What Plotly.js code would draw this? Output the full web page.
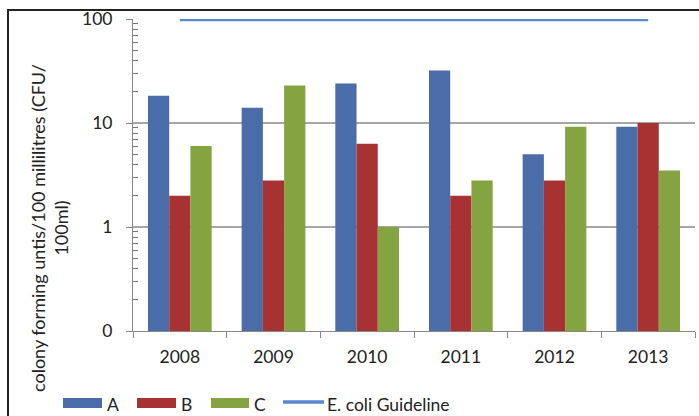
<!DOCTYPE html>
<html>
<head>
<meta charset="utf-8">
<script src="https://cdn.plot.ly/plotly-3.0.1.min.js"></script>
<style>
html,body{margin:0;padding:0;width:699px;height:416px;overflow:hidden;background:#fff;}
#chart{position:absolute;left:0;top:0;width:699px;height:416px;}
#frame{position:absolute;left:7px;top:9px;width:760px;height:460px;border:2px solid #222;pointer-events:none;}
</style>
</head>
<body>
<div id="chart"></div>
<div id="frame"></div>
<script>
const years = ['2008','2009','2010','2011','2012','2013'];
const seriesA = [18.3, 14, 24, 32, 5, 9.2];
const seriesB = [2, 2.8, 6.3, 2, 2.8, 10];
const seriesC = [6, 23, 1, 2.8, 9.2, 3.5];
const guideline = [100, 100, 100, 100, 100, 100];
const yTickVals = [0.1, 1, 10, 100];
const yTickText = ['0', '1', '10', '100'];
const names = ['A', 'B', 'C', 'E. coli Guideline'];
const colors = ['#4A6CA8', '#A83232', '#84A441', '#5B86D0'];

// minor ticks of a log axis: 2..9 within each decade
const minorVals = [];
for (const d of [0.1, 1, 10]) for (let k = 2; k <= 9; k++) minorVals.push(+(k * d).toPrecision(3));

const W = 699, H = 416, L = 133, R = 4, T = 19, B = 85;
const pw = W - L - R, ph = H - T - B;
const px = x => (x - L) / pw;
const py = y => (H - B - y) / ph;
const FONT = 'Lato, "Open Sans", sans-serif';

const traces = [
  {type:'bar', x:years, y:seriesA, name:names[0], marker:{color:colors[0]}},
  {type:'bar', x:years, y:seriesB, name:names[1], marker:{color:colors[1]}},
  {type:'bar', x:years, y:seriesC, name:names[2], marker:{color:colors[2]}},
  {type:'scatter', mode:'lines', x:years, y:guideline, name:names[3], line:{color:colors[3], width:4.5}}
];

// custom legend (wide swatches like the original)
const shapes = [];
const annotations = [];
const legBoxes = [[63,102],[137,176],[211,249]];
const legTextX = [105,179,252];
for (let i = 0; i < 3; i++) {
  shapes.push({type:'rect', xref:'paper', yref:'paper', x0:px(legBoxes[i][0]), x1:px(legBoxes[i][1]), y0:py(408), y1:py(398), fillcolor:colors[i], line:{width:0}});
  annotations.push({xref:'paper', yref:'paper', x:px(legTextX[i]), y:py(404), xanchor:'left', yanchor:'middle', text:names[i], showarrow:false, font:{family:FONT, size:17.5, color:'#222'}});
}
shapes.push({type:'line', xref:'paper', yref:'paper', x0:px(283), x1:px(324), y0:py(402), y1:py(402), line:{color:colors[3], width:3.5}});
annotations.push({xref:'paper', yref:'paper', x:px(325), y:py(404), xanchor:'left', yanchor:'middle', text:names[3], showarrow:false, font:{family:FONT, size:17.5, color:'#222'}});
// y axis title
annotations.push({xref:'paper', yref:'paper', x:px(49), y:py(228), xanchor:'center', yanchor:'middle', textangle:-90, showarrow:false,
  text:'colony forming untis/100 millilitres (CFU/<br>100ml)', align:'center', font:{family:FONT, size:18, color:'#222'}});

const layout = {
  width:W, height:H,
  margin:{l:L, r:R, t:T, b:B, pad:0},
  paper_bgcolor:'rgba(0,0,0,0)', plot_bgcolor:'#fff',
  showlegend:false,
  barmode:'group', bargap:0.32, bargroupgap:0,
  font:{family:FONT, size:17.5, color:'#222'},
  xaxis:{type:'category', tickson:'boundaries', ticks:'outside', ticklen:6, tickcolor:'#888',
    showline:true, linecolor:'#888', linewidth:1, showgrid:false, ticklabelstandoff:10,
    tickfont:{family:FONT, size:17.5, color:'#222'}},
  yaxis:{type:'log', range:[-1, 2], tickmode:'array', tickvals:yTickVals, ticktext:yTickText, ticks:'outside', ticklen:6, tickcolor:'#888',
    showline:true, linecolor:'#888', linewidth:1, showgrid:true, gridcolor:'#a6a6a6', gridwidth:1.2, zeroline:false,
    ticklabelstandoff:10, tickfont:{family:FONT, size:17.5, color:'#222'},
    minor:{tickmode:'array', tickvals:minorVals, ticks:'inside', ticklen:5, tickwidth:1, tickcolor:'#777', showgrid:false}},
  shapes:shapes, annotations:annotations
};
Plotly.newPlot('chart', traces, layout, {displayModeBar:false, staticPlot:true});
</script>
</body>
</html>
